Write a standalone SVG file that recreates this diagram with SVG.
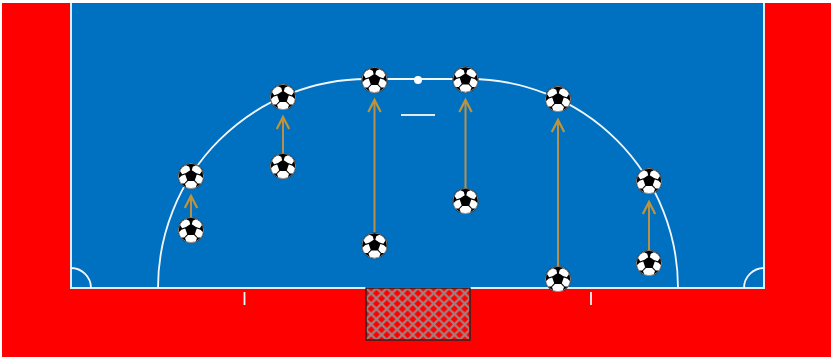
<svg xmlns="http://www.w3.org/2000/svg" width="831" height="357" viewBox="0 0 831 357">
<style>
.l{fill:none;stroke:#dfeaf5;stroke-width:2}
.t{fill:none;stroke:#f2f6fa;stroke-width:1.800}
.a{fill:none;stroke:#b9904a;stroke-width:2;marker-end:url(#h)}
</style>
<defs>
<marker id="h" markerUnits="userSpaceOnUse" markerWidth="16" markerHeight="16" refX="13" refY="8" orient="auto" viewBox="0 0 16 16" overflow="visible">
<path d="M1 1.800L13 8L1 14.200" fill="none" stroke="#c09438" stroke-width="2.200"/>
</marker>
<pattern id="n" width="10.4" height="10.4" patternUnits="userSpaceOnUse" x="366" y="288">
<rect width="10.4" height="10.4" fill="#f00"/>
<path d="M0 0L10.4 10.4M10.4 0L0 10.4" stroke="#a08080" stroke-width="2.200"/>
</pattern>
<g id="ball">
<circle r="13" fill="#000"/>
<g fill="#fff">
<path d="M-0.800-5.800L-1.800-9.200L-5-10.800L-9-8.500L-11-5L-8.800-1.800L-5-2.900Z"/>
<path d="M0.800-5.800L1.800-9.200L5-10.800L9-8.500L11-5L8.800-1.800L5-2.900Z"/>
<path d="M-5.800-1.400L-9.500-0.300L-12.300 2.500L-10.500 7.600L-6.800 7.400L-3.800 4.300Z"/>
<path d="M5.800-1.400L9.500-0.300L12.300 2.500L10.500 7.600L6.800 7.400L3.800 4.300Z"/>
<path d="M-3 4.900H3L6 8L4.500 12L0 13L-4.500 12L-6 8Z"/>
</g>
<circle r="12.600" fill="none" stroke="#8a8a8a" stroke-width=".9"/>
</g>
</defs>
<rect x="2" y="3" width="829" height="354" fill="#f00"/>
<g id="field">
<rect x="71" y="3" width="693" height="285" fill="#0070c0"/>
<path d="M71 3V288H764V3" class="l"/>
</g>
<g id="markings">
<path d="M158 288A209 209 0 0 1 367 79H469A209 209 0 0 1 678 288" class="t"/>
<path d="M71 268A20 20 0 0 1 91 288M744 288A20 20 0 0 1 764 268" class="t"/>
<path d="M401 115H435" class="l"/>
<circle cx="418" cy="80" r="4" fill="#fff"/>
<path d="M244.500 292V305M591 292V305" class="t"/>
</g>
<g id="goal">
<rect x="366" y="288" width="104" height="52" fill="url(#n)" stroke="#222" stroke-width="1.400"/>
</g>
<g id="connectors">
<path d="M191 217V196" class="a"/>
<path d="M283 153V117" class="a"/>
<path d="M374.500 232V100" class="a"/>
<path d="M465.500 188V100" class="a"/>
<path d="M558 266V120" class="a"/>
<path d="M649 250V202" class="a"/>
</g>
<use id="ball1" href="#ball" x="191" y="176"/>
<use id="ball2" href="#ball" x="191" y="230"/>
<use id="ball3" href="#ball" x="283" y="97"/>
<use id="ball4" href="#ball" x="283" y="166"/>
<use id="ball5" href="#ball" x="374.500" y="80"/>
<use id="ball6" href="#ball" x="374.500" y="245.500"/>
<use id="ball7" href="#ball" x="465.500" y="79.500"/>
<use id="ball8" href="#ball" x="465.500" y="201"/>
<use id="ball9" href="#ball" x="558" y="99"/>
<use id="ball10" href="#ball" x="558" y="279"/>
<use id="ball11" href="#ball" x="649" y="181"/>
<use id="ball12" href="#ball" x="649" y="263"/>
</svg>
